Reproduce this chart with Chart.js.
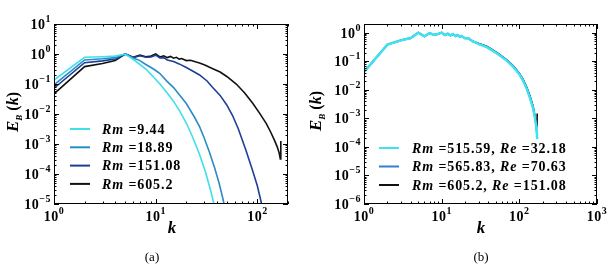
<!DOCTYPE html>
<html>
<head>
<meta charset="utf-8">
<script src="https://cdn.jsdelivr.net/npm/chart.js@4.4.0/dist/chart.umd.min.js"></script>
<style>
  body { margin: 0; background: #fff; }
  .panel { position: absolute; top: 0; width: 304px; height: 264px; }
</style>
</head>
<body>
<div class="panel" style="left:0"><canvas id="chartA" width="304" height="264"></canvas></div>
<div class="panel" style="left:304px"><canvas id="chartB" width="304" height="264"></canvas></div>
<script>
'use strict';

// panel (a): spectra for different Rm
const labelsA = ['Rm =9.44', 'Rm =18.89', 'Rm =151.08', 'Rm =605.2'];
const colorsA = ['#3fe0ea', '#2a8cc4', '#1e3f98', '#111111'];

const kRm9 = [1, 2, 3, 4, 5, 6, 7, 8, 9, 10, 11, 13, 15, 17, 20, 23, 27, 31, 35, 38, 40];
const eRm9 = [0.135, 0.776, 0.813, 0.851, 1.0, 0.661, 0.447, 0.316, 0.209, 0.141, 0.1, 0.0501, 0.0263, 0.0135,
  0.00501, 0.00174, 0.000447, 0.000112, 0.0000251, 0.0000079, 0.00000398];

const kRm18 = [1, 2, 3, 4, 5, 6, 7, 8, 9, 10, 11, 13, 15, 17, 20, 24, 27, 30, 34, 38, 42, 46, 49];
const eRm18 = [0.0933, 0.631, 0.692, 0.759, 1.0, 0.741, 0.603, 0.447, 0.355, 0.282, 0.224, 0.120, 0.0759, 0.0447,
  0.0224, 0.00794, 0.0038, 0.00158, 0.0005, 0.000158, 0.00005, 0.0000141, 0.000005];

const kRm151 = [1, 2, 3, 4, 5, 6, 7, 8, 9, 10, 11, 12, 13, 15, 17, 20, 24, 27, 32, 36, 43, 50, 57, 65, 77, 90, 100, 110, 116];
const eRm151 = [0.0724, 0.513, 0.589, 0.676, 1.0, 0.759, 0.871, 0.776, 0.794, 0.912, 0.741, 0.759, 0.631, 0.562,
  0.468, 0.355, 0.251, 0.2, 0.126, 0.0794, 0.0417, 0.02, 0.00891, 0.00316, 0.00063, 0.000126, 0.0000398, 0.00001, 0.00000398];

const kRm605 = [1, 2, 3, 4, 5, 6, 7, 8, 9, 10, 11, 12, 13, 14, 15, 16, 17, 18, 20, 22, 25, 27, 30, 36, 43, 50, 62, 75,
  90, 105, 122, 135, 147, 157, 164, 168, 170];
const eRm605 = [0.0468, 0.380, 0.479, 0.603, 1.0, 0.776, 0.912, 0.813, 0.851, 1.0, 0.794, 0.871, 0.759, 0.832, 0.724,
  0.776, 0.676, 0.708, 0.603, 0.617, 0.537, 0.501, 0.437, 0.331, 0.251, 0.178, 0.1, 0.0501, 0.0229, 0.0107, 0.0049,
  0.00251, 0.00135, 0.00079, 0.00049, 0.000316, 0.00126];

// panel (b): same Rm range, different Re
const labelsB = ['Rm =515.59, Re =32.18', 'Rm =565.83, Re =70.63', 'Rm =605.2, Re =151.08'];
const colorsB = ['#3fe3f0', '#2f7fd2', '#111111'];

const kB = [1, 2, 3, 4, 5, 6, 7, 8, 9, 10, 11, 12, 13, 14, 15, 16, 17, 18, 20, 22, 25, 30, 38, 45, 56, 70, 84, 100,
  112, 125, 137, 150, 159, 165, 168, 170];
const eRe32 = [0.0417, 0.380, 0.537, 0.646, 1.0, 0.741, 0.955, 0.832, 0.891, 1.0, 0.813, 0.912, 0.794, 0.891, 0.759,
  0.832, 0.724, 0.759, 0.631, 0.631, 0.501, 0.398, 0.309, 0.234, 0.158, 0.1, 0.0617, 0.0347, 0.0204, 0.0105,
  0.00513, 0.00224, 0.001, 0.0005, 0.000282, 0.000186];
const eRe70 = [0.0417, 0.380, 0.537, 0.646, 1.0, 0.741, 0.955, 0.832, 0.891, 1.0, 0.813, 0.912, 0.794, 0.891, 0.759,
  0.832, 0.724, 0.759, 0.631, 0.631, 0.501, 0.407, 0.32, 0.243, 0.164, 0.1035, 0.0646, 0.0363, 0.0216, 0.0112,
  0.00562, 0.00245, 0.0011, 0.000562, 0.000331, 0.000251];
const eRe151 = [0.0417, 0.380, 0.537, 0.646, 1.0, 0.741, 0.955, 0.832, 0.891, 1.0, 0.813, 0.912, 0.794, 0.891, 0.759,
  0.832, 0.724, 0.759, 0.631, 0.631, 0.501, 0.417, 0.331, 0.251, 0.170, 0.107, 0.0676, 0.038, 0.0229, 0.012,
  0.00603, 0.00269, 0.0012, 0.00063, 0.00038, 0.00148];

function pts(ks, es) {
  let out = [];
  for (let i = 0; i < ks.length; i++) {
    out.push({ x: ks[i], y: es[i] });
  }
  return out;
}

function expText(e) {
  return e < 0 ? '\u2212' + Math.abs(e) : String(e);
}

const SERIF = '"Liberation Serif", "DejaVu Serif", serif';

// axes frame, inward ticks, labels, legend and titles (matplotlib look)
const framePlugin = {
  id: 'frame',
  afterDraw(chart, args, opts) {
    const ctx = chart.ctx;
    const a = chart.chartArea;
    const xs = chart.scales.x;
    const ys = chart.scales.y;
    ctx.save();
    ctx.strokeStyle = '#000';
    ctx.lineWidth = 1;
    ctx.strokeRect(Math.round(a.left) + 0.5, Math.round(a.top) + 0.5,
      Math.round(a.right - a.left) - 1, Math.round(a.bottom - a.top) - 1);

    function tickLoop(scale, cb) {
      let lo = Math.floor(Math.log10(scale.min));
      let hi = Math.ceil(Math.log10(scale.max));
      for (let e = lo; e <= hi; e++) {
        for (let m = 1; m <= 9; m++) {
          let v = m * Math.pow(10, e);
          if (v < scale.min * 0.999 || v > scale.max * 1.001) continue;
          cb(scale.getPixelForValue(v), m === 1, e);
        }
      }
    }
    ctx.beginPath();
    tickLoop(xs, function (p, major) {
      let L = major ? 5 : 2.5;
      let x = Math.round(p) + 0.5;
      ctx.moveTo(x, a.bottom); ctx.lineTo(x, a.bottom - L);
      ctx.moveTo(x, a.top); ctx.lineTo(x, a.top + L);
    });
    tickLoop(ys, function (p, major) {
      let L = major ? 5 : 2.5;
      let y = Math.round(p) + 0.5;
      ctx.moveTo(a.left, y); ctx.lineTo(a.left + L, y);
      ctx.moveTo(a.right, y); ctx.lineTo(a.right - L, y);
    });
    ctx.stroke();

    // tick labels 10^n
    const bigF = 'bold 14px ' + SERIF;
    const supF = 'bold 10px ' + SERIF;
    ctx.fillStyle = '#000';
    ctx.textBaseline = 'alphabetic';
    ctx.textAlign = 'left';
    ctx.letterSpacing = '0.5px';
    tickLoop(ys, function (p, major, e) {
      if (!major) return;
      ctx.font = supF;
      let s = expText(e);
      let w2 = ctx.measureText(s).width;
      ctx.font = bigF;
      let w1 = ctx.measureText('10').width;
      let x0 = a.left - 3 - w2 - w1;
      ctx.fillText('10', x0, p + 5);
      ctx.font = supF;
      ctx.fillText(s, x0 + w1, p - 2);
    });
    tickLoop(xs, function (p, major, e) {
      if (!major) return;
      ctx.font = supF;
      let s = expText(e);
      let w2 = ctx.measureText(s).width;
      ctx.font = bigF;
      let w1 = ctx.measureText('10').width;
      let x0 = p - (w1 + w2) / 2;
      ctx.fillText('10', x0, a.bottom + 17);
      ctx.font = supF;
      ctx.fillText(s, x0 + w1, a.bottom + 10);
    });

    // legend
    const lg = opts.legend;
    ctx.letterSpacing = '0.9px';
    chart.data.datasets.forEach(function (ds, i) {
      let y = lg.y + i * lg.dy;
      ctx.strokeStyle = ds.borderColor;
      ctx.lineWidth = 2;
      ctx.beginPath();
      ctx.moveTo(lg.x, y);
      ctx.lineTo(lg.x + 20, y);
      ctx.stroke();
      let x = lg.tx;
      let parts = ds.label.split(/(Rm|Re)/);
      ctx.textBaseline = 'middle';
      parts.forEach(function (t) {
        if (!t) return;
        ctx.font = (t === 'Rm' || t === 'Re' ? 'italic bold 14px ' : 'bold 14px ') + SERIF;
        ctx.fillText(t, x, y + 1);
        x += ctx.measureText(t).width;
      });
    });
    ctx.letterSpacing = '0px';

    // axis titles and caption
    ctx.textBaseline = 'alphabetic';
    ctx.font = 'italic bold 17px ' + SERIF;
    ctx.textAlign = 'center';
    ctx.fillText('k', opts.kx, 233);
    ctx.font = '13px ' + SERIF;
    ctx.fillText(opts.caption, opts.capx, 261);

    ctx.translate(opts.ty.x, opts.ty.y);
    ctx.rotate(-Math.PI / 2);
    ctx.textAlign = 'left';
    const tparts = [['E', 'italic bold 17px ', 0], ['B', 'italic bold 9px ', 4], [' (', 'bold 16px ', 0],
      ['k', 'italic bold 16px ', 0], [')', 'bold 16px ', 0]];
    let tw = 0;
    tparts.forEach(function (p) { ctx.font = p[1] + SERIF; tw += ctx.measureText(p[0]).width; });
    let tx = -tw / 2;
    tparts.forEach(function (p) {
      ctx.font = p[1] + SERIF;
      ctx.fillText(p[0], tx, 6 + p[2]);
      tx += ctx.measureText(p[0]).width;
    });
    ctx.restore();
  }
};

function makeChart(id, datasets, xmax, ymin, ymax, pad, extra) {
  return new Chart(document.getElementById(id), {
    type: 'line',
    data: { datasets: datasets },
    options: {
      responsive: false,
      animation: false,
      devicePixelRatio: 1,
      layout: { padding: pad },
      elements: { point: { radius: 0 }, line: { tension: 0, borderWidth: 1.6 } },
      plugins: { legend: { display: false }, tooltip: { enabled: false }, frame: extra },
      scales: {
        x: { type: 'logarithmic', min: 1, max: xmax, display: false },
        y: { type: 'logarithmic', min: ymin, max: ymax, display: false }
      }
    },
    plugins: [framePlugin]
  });
}

const dsA = [
  { label: labelsA[0], data: pts(kRm9, eRm9), borderColor: colorsA[0] },
  { label: labelsA[1], data: pts(kRm18, eRm18), borderColor: colorsA[1] },
  { label: labelsA[2], data: pts(kRm151, eRm151), borderColor: colorsA[2] },
  { label: labelsA[3], data: pts(kRm605, eRm605), borderColor: colorsA[3] }
];
makeChart('chartA', dsA, 200, 1e-5, 10, { left: 54, right: 16, top: 24, bottom: 60 }, {
  legend: { x: 70, y: 129, dy: 18.3, tx: 102 },
  kx: 172, caption: '(a)', capx: 152, ty: { x: 12, y: 112 }
});

const dsB = [
  { label: labelsB[0], data: pts(kB, eRe32), borderColor: colorsB[0], borderWidth: 2.4 },
  { label: labelsB[1], data: pts(kB, eRe70), borderColor: colorsB[1], borderWidth: 2 },
  { label: labelsB[2], data: pts(kB, eRe151), borderColor: colorsB[2] }
];
makeChart('chartB', dsB, 1000, 1e-6, 2, { left: 60, right: 11, top: 24, bottom: 60 }, {
  legend: { x: 75, y: 148, dy: 18.5, tx: 108 },
  kx: 177, caption: '(b)', capx: 177, ty: { x: 11, y: 111 }
});
</script>
</body>
</html>
